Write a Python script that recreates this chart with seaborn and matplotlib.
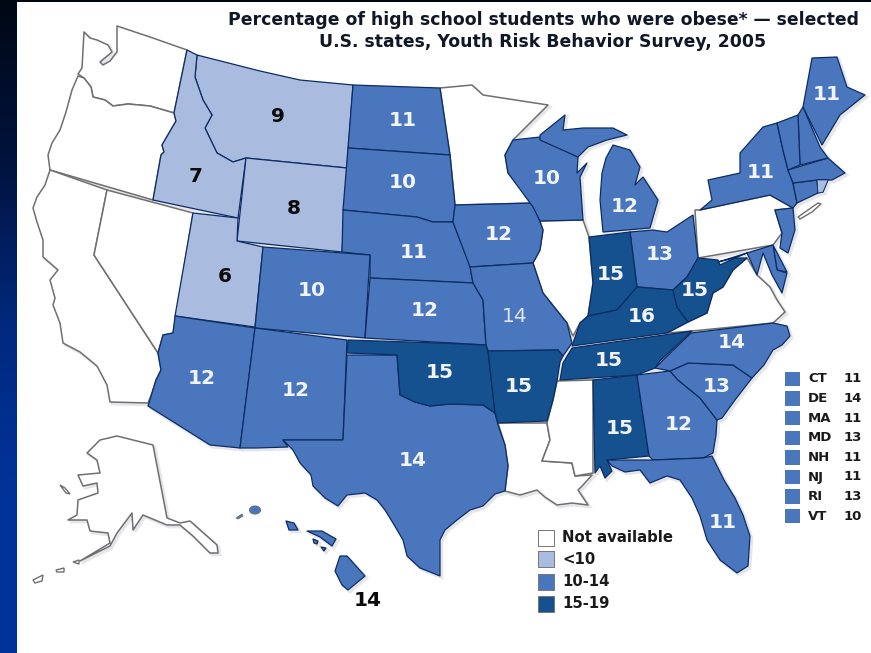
import numpy as np
import pandas as pd
import matplotlib
matplotlib.use("Agg")
import matplotlib.pyplot as plt
from matplotlib.colors import LinearSegmentedColormap
from matplotlib.patches import Polygon, Ellipse, Rectangle
import seaborn as sns

sns.set_style("white")
plt.rcParams['font.family'] = ['DejaVu Sans']

TITLE_LINES = ["Percentage of high school students who were obese* \u2014 selected",
               "U.S. states, Youth Risk Behavior Survey, 2005"]

# state values (None = not available)
RATES = dict(MT=9, ID=7, WY=8, UT=6, ND=11, SD=10, NE=11, CO=10, KS=12, AZ=12, NM=12, TX=14,
             IA=12, MO=14, WI=10, MI=12, OH=13, IN=15, KY=16, WV=15, TN=15, OK=15, AR=15, AL=15,
             GA=12, SC=13, NC=14, FL=11, NY=11, ME=11, HI=14, CT=11, DE=14, MA=11, MD=13,
             NH=11, NJ=11, RI=13, VT=10)
RATES_NA = ["WA", "OR", "CA", "NV", "MN", "IL", "PA", "VA", "LA", "MS", "AK"]

# where each state's number is written on the map
LABEL_AT = dict(MT=(278, 117), ID=(196, 177), WY=(294, 209), UT=(225, 277), ND=(403, 120), SD=(403, 182),
                NE=(414, 252), CO=(312, 291), KS=(425, 311), AZ=(202, 378), NM=(296, 391), TX=(413, 461),
                IA=(499, 234), MO=(515, 316), WI=(547, 179), MI=(625, 206), OH=(660, 255), IN=(611, 274),
                KY=(642, 316), WV=(695, 291), TN=(609, 360), OK=(440, 373), AR=(519, 387), AL=(620, 429),
                GA=(679, 424), SC=(717, 386), NC=(732, 343), FL=(723, 523), NY=(761, 173), ME=(827, 94),
                HI=(368, 600))

SMALL_STATES = ["CT", "DE", "MA", "MD", "NH", "NJ", "RI", "VT"]
LEGEND_LABELS = ["Not available", "<10", "10-14", "15-19"]

# state outlines (geographic geometry traced in map units)
SHAPES = {
 "WA": [[(117,26),(150,37),(187,50),(174,113),(150,106),(128,104),(113,106),(105,100),(93,97),(91,87),(84,78),(78,74),(82,68),(84,32),(90,38),(97,40),(108,45),(112,52),(100,62),(103,65),(110,61),(117,52)]],
 "OR": [[(78,76),(84,78),(91,87),(93,97),(105,100),(113,106),(128,104),(150,106),(174,113),(176,121),(169,133),(162,145),(164,152),(161,155),(153,200),(50,170),(48,155),(52,143),(60,130),(66,112),(72,90)]],
 "CA": [[(50,170),(107,190),(94,255),(158,353),(161,370),(156,380),(152,393),(148,403),(110,402),(107,385),(97,366),(80,352),(63,343),(60,323),(53,305),(55,298),(50,280),(58,270),(50,263),(43,257),(43,240),(37,222),(33,208),(37,197),(45,185)]],
 "NV": [[(107,190),(193,213),(177,310),(173,333),(163,335),(158,353),(94,255)]],
 "ID": [[(187,50),(197,55),(195,77),(203,100),(212,115),(205,128),(217,153),(233,162),(246,158),(238,218),(153,200),(161,155),(164,152),(162,145),(169,133),(176,121),(174,113)]],
 "MT": [[(197,55),(260,71),(300,80),(353,85),(347,168),(246,158),(233,162),(217,153),(205,128),(212,115),(203,100),(195,77)]],
 "WY": [[(246,158),(347,168),(342,252),(237,241)]],
 "UT": [[(193,213),(238,218),(237,241),(263,247),(255,327),(175,316)]],
 "CO": [[(263,247),(370,255),(365,338),(255,328)]],
 "AZ": [[(175,316),(255,328),(240,448),(210,445),(148,406),(152,393),(156,380),(161,370),(158,353),(163,335),(173,333)]],
 "NM": [[(255,328),(347,340),(343,440),(283,440),(288,447),(256,448),(240,448)]],
 "TX": [[(347,355),(397,355),(400,395),(415,402),(430,406),(450,404),(483,405),(495,413),(498,425),(505,445),(508,466),(505,491),(495,494),(483,506),(470,510),(457,520),(445,530),(440,540),(440,576),(420,568),(407,556),(403,540),(393,523),(385,510),(377,500),(365,493),(347,495),(338,506),(325,498),(313,486),(311,475),(300,463),(293,450),(283,440),(343,440)]],
 "OK": [[(348,340),(440,343),(486,345),(488,351),(495,413),(483,405),(450,404),(430,406),(415,402),(400,395),(397,355),(347,353)]],
 "AR": [[(488,351),(558,350),(563,356),(560,362),(557,381),(553,400),(547,421),(498,423),(495,413)]],
 "LA": [[(498,423),(547,423),(550,440),(542,461),(572,463),(575,476),(592,475),(583,485),(578,490),(588,505),(572,503),(557,505),(545,497),(537,490),(520,495),(505,491),(508,466),(505,445)]],
 "MS": [[(557,381),(593,380),(593,473),(575,476),(572,463),(542,461),(550,440),(547,423),(553,400)]],
 "AL": [[(593,380),(637,375),(649,456),(607,460),(612,471),(605,478),(600,466),(595,473)]],
 "GA": [[(637,375),(670,371),(678,380),(700,398),(717,420),(716,435),(713,453),(703,458),(653,460),(649,456)]],
 "FL": [[(607,460),(653,460),(703,458),(712,456),(724,480),(735,498),(743,515),(750,536),(748,566),(737,573),(720,560),(707,540),(700,516),(692,498),(680,480),(667,476),(650,483),(640,470),(625,472),(612,466)]],
 "SC": [[(670,371),(688,363),(733,365),(752,378),(735,400),(722,418),(717,420),(700,398),(678,380)]],
 "NC": [[(655,368),(691,333),(773,323),(787,326),(790,336),(782,345),(773,350),(764,365),(752,378),(733,365),(688,363),(670,371)]],
 "TN": [[(572,348),(692,331),(660,361),(655,368),(637,375),(560,380),(563,363)]],
 "KY": [[(588,316),(617,310),(637,287),(673,290),(677,307),(688,322),(667,333),(572,346),(580,323)]],
 "IN": [[(589,237),(630,232),(637,287),(617,310),(588,316),(593,283)]],
 "OH": [[(630,232),(653,230),(667,232),(693,215),(698,258),(687,277),(673,290),(637,287)]],
 "MI": [[(603,232),(650,228),(658,200),(643,177),(635,185),(640,167),(630,150),(613,145),(606,158),(602,173),(600,200)],
        [(540,135),(565,115),(563,130),(583,128),(613,128),(627,135),(607,140),(588,147),(578,157),(540,140)]],
 "WI": [[(540,137),(578,157),(577,173),(587,163),(580,177),(583,220),(540,221),(533,207),(508,173),(505,155),(513,140)]],
 "MN": [[(440,88),(472,85),(483,95),(548,105),(513,140),(505,155),(508,173),(533,203),(455,205),(450,155)]],
 "ND": [[(353,85),(440,88),(450,155),(348,148)]],
 "SD": [[(348,148),(450,155),(455,205),(453,222),(433,222),(417,217),(343,210)]],
 "NE": [[(343,210),(417,217),(433,222),(453,222),(470,265),(473,283),(370,278),(370,255),(342,252)]],
 "KS": [[(370,278),(473,283),(483,300),(486,345),(365,338)]],
 "IA": [[(455,205),(533,203),(543,230),(540,250),(533,263),(470,267),(453,222)]],
 "MO": [[(470,267),(533,263),(543,293),(567,323),(572,343),(563,356),(558,350),(488,351),(486,345),(483,300),(473,283)]],
 "IL": [[(540,221),(583,220),(589,237),(593,283),(588,316),(580,323),(573,336),(567,323),(543,293),(533,263),(540,250),(543,230)]],
 "NY": [[(700,210),(712,200),(708,180),(740,173),(740,153),(763,127),(777,123),(783,150),(788,170),(793,183),(797,203),(793,208),(770,195)]],
 "PA": [[(695,210),(700,210),(770,195),(793,208),(775,210),(782,233),(773,245),(698,258)]],
 "NJ": [[(775,210),(793,208),(795,230),(788,253),(780,248),(782,233)]],
 "VT": [[(777,123),(798,115),(800,165),(788,170),(783,150)]],
 "NH": [[(803,107),(820,147),(828,158),(800,165),(798,115)]],
 "ME": [[(812,58),(837,57),(847,87),(865,95),(840,115),(822,145),(803,107)]],
 "MA": [[(788,170),(828,158),(845,173),(832,180),(817,180),(793,183)]],
 "CT": [[(793,183),(817,180),(818,193),(797,203)]],
 "RI": [[(817,180),(828,180),(823,192),(818,193)]],
 "MD": [[(718,262),(773,245),(777,270),(787,273),(782,293),(772,275),(763,253),(757,275),(747,253),(735,258)]],
 "DE": [[(773,245),(787,272),(777,270)]],
 "WV": [[(698,258),(718,260),(720,265),(735,258),(747,258),(733,270),(723,287),(713,293),(707,313),(688,322),(677,307),(673,290),(687,277)]],
 "VA": [[(667,333),(688,322),(707,313),(713,293),(723,287),(733,270),(747,258),(757,275),(770,287),(777,300),(785,312),(773,323),(692,331)]],
 "AK": [[(117,436),(153,445),(167,518),(180,523),(190,521),(217,545),(218,553),(210,553),(193,536),(180,525),(167,525),(143,515),(133,530),(132,513),(117,533),(110,546),(80,561),(110,543),(108,533),(90,531),(87,520),(68,520),(77,515),(78,500),(98,493),(97,483),(83,486),(78,475),(100,473),(97,460),(87,453),(100,440)]],
 "HI": [[(340,556),(347,556),(365,576),(348,590),(342,585),(335,571)],
        [(286,521),(294,523),(298,530),(289,530)],
        [(307,531),(322,531),(336,539),(332,546),(320,537)],
        [(313,539),(318,541),(317,544),(314,543)],
        [(321,547),(326,548),(324,551)]],
}
AK_ISLES = [[(33,580),(43,575),(42,581),(35,583)], [(56,570),(64,568),(64,572),(57,572)], [(73,562),(79,560),(79,564)], [(60,485),(65,488),(70,494),(66,493)]]
HI_ISLES = [[(236,518),(242,514),(243,516),(238,519)]]
LONG_ISLAND = [(798,217),(818,203),(821,204),(812,212),(800,219)]

NA_C, LOW_C, MID_C, HIGH_C = "#ffffff", "#a9bbdf", "#4a76bd", "#15508f"
EDGE, GREY = "#0c2d63", "#6f6f6f"

def bin_of(v):
    if v is None:
        return LEGEND_LABELS[0]
    return LEGEND_LABELS[1] if v < 10 else LEGEND_LABELS[2] if v < 15 else LEGEND_LABELS[3]

PALETTE = dict(zip(LEGEND_LABELS, [NA_C, LOW_C, MID_C, HIGH_C]))

fig = plt.figure(figsize=(8.71, 6.53), dpi=100)
ax = fig.add_axes([0, 0, 1, 1])
ax.set_xlim(0, 871)
ax.set_ylim(653, 0)
ax.axis("off")

cmap = LinearSegmentedColormap.from_list("bg", ["#000814", "#00133f", "#00297f", "#003399", "#003399"])
ax.imshow(np.linspace(0, 1, 256)[:, None], cmap=cmap, extent=[0, 871, 653, 0], aspect="auto", zorder=0)
ax.add_patch(Rectangle((17, 2), 854, 651, fc="white", ec="none", zorder=1))

# soft shadow, then states
for name, parts in SHAPES.items():
    for part in parts:
        ax.add_patch(Polygon(np.array(part) + 2.0, closed=True, fc="#e6e6ea", ec="#e6e6ea", lw=2, zorder=2))
order = RATES_NA + list(RATES)
for name in order:
    v = RATES.get(name)
    for part in SHAPES[name]:
        na = v is None
        ax.add_patch(Polygon(part, closed=True, fc=PALETTE[bin_of(v)], ec=GREY if na else EDGE,
                             lw=1.1 if na else 0.9, joinstyle="round", zorder=3))
ax.add_patch(Polygon(SHAPES["RI"][0], closed=True, fc=LOW_C, ec=EDGE, lw=0.5, zorder=4))
for part in AK_ISLES + [LONG_ISLAND]:
    ax.add_patch(Polygon(part, closed=True, fc="white", ec=GREY, lw=1.0, zorder=3))
for part in HI_ISLES:
    ax.add_patch(Polygon(part, closed=True, fc=MID_C, ec=GREY, lw=0.6, zorder=3))
ax.add_patch(Ellipse((255, 510), 11, 8, fc=MID_C, ec=GREY, lw=0.8, zorder=3))

# state numbers
for name, (x, y) in LABEL_AT.items():
    v = RATES[name]
    col, w = ("#0a0a0a", "bold") if (name == "HI" or v < 10) else ("#f1f5fb", "bold")
    if name == "MO":
        w, col = "normal", "#dfe7f4"
    ax.text(x, y, str(v), ha="center", va="center", fontsize=14.5, fontweight=w, color=col, zorder=6)

ax.text(543, 20, TITLE_LINES[0], ha="center", va="center", fontsize=12.4, fontweight="bold", color="#101828", zorder=6)
ax.text(543, 42, TITLE_LINES[1], ha="center", va="center", fontsize=12.4, fontweight="bold", color="#101828", zorder=6)

# legends through seaborn
leg = pd.DataFrame({"label": LEGEND_LABELS, "x": [546] * 4, "y": [538, 559, 582, 604]})
sns.scatterplot(data=leg, x="x", y="y", hue="label", palette=PALETTE, marker="s", s=125,
                edgecolor="#777777", linewidth=0.7, legend=False, ax=ax, zorder=5)
for _, r in leg.iterrows():
    ax.text(562, r["y"], r["label"], ha="left", va="center", fontsize=10.7, fontweight="bold", color="#1a1a1a", zorder=6)

side = pd.DataFrame({"state": SMALL_STATES, "value": [RATES[s] for s in SMALL_STATES],
                     "x": [792.5] * 8, "y": [379 + i * 19.6 for i in range(8)]})
sns.scatterplot(data=side, x="x", y="y", color=MID_C, marker="s", s=110, edgecolor="none", legend=False, ax=ax, zorder=5)
for _, r in side.iterrows():
    ax.text(808, r["y"], r["state"], ha="left", va="center", fontsize=9.5, fontweight="bold", color="#1a1a1a", zorder=6)
    ax.text(862, r["y"], str(r["value"]), ha="right", va="center", fontsize=9.5, fontweight="bold", color="#1a1a1a", zorder=6)

ax.set_xlabel("")
ax.set_ylabel("")
ax.set_xlim(0, 871)
ax.set_ylim(653, 0)
fig.savefig("out.png", dpi=100)
